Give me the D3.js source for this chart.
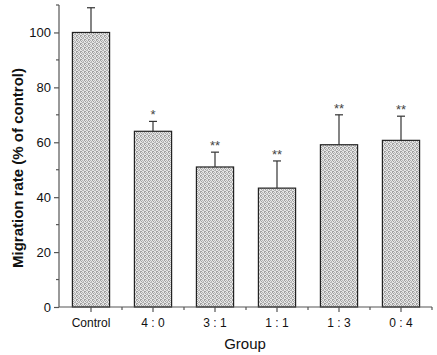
<!DOCTYPE html>
<html><head><meta charset="utf-8">
<script src="https://cdn.jsdelivr.net/npm/d3@7"></script>
<style>body{margin:0;background:#fff}svg{display:block}text{font-family:"Liberation Sans",Arial,sans-serif}</style>
</head><body><svg id="c" width="437" height="355"></svg>
<script>
const categories = ["Control", "4 : 0", "3 : 1", "1 : 1", "1 : 3", "0 : 4"];
const values = [100, 64, 51, 43.3, 59.1, 60.7];
const errors = [9, 3.6, 5.4, 9.9, 10.9, 8.8];
const marks = ["", "*", "**", "**", "**", "**"];
const yTicks = [0, 20, 40, 60, 80, 100];

const svg = d3.select("#c");
const defs = svg.append("defs");
const pat = defs.append("pattern").attr("id","hatch").attr("patternUnits","userSpaceOnUse")
  .attr("width",4).attr("height",4);
pat.append("rect").attr("width",4).attr("height",4).attr("fill","#e6e6e6");
[[0,0],[2,0],[1,1],[3,2],[0,3],[2,2],[1,3],[3,1]].forEach(([px,py],k)=>{
  pat.append("rect").attr("x",px).attr("y",py).attr("width",1).attr("height",1)
    .attr("fill", k%2 ? "#b4b4b4" : "#a0a0a0");
});

const x = d3.scaleBand().domain(categories).range([60,432]).paddingInner(0.4).paddingOuter(0.2);
const y = d3.scaleLinear().domain([0,110]).range([307,5]);

const g = svg.append("g");
g.selectAll("rect.bar").data(categories).join("rect").attr("class","bar")
  .attr("x", d=>x(d)).attr("width", x.bandwidth())
  .attr("y", (d,i)=>y(values[i])).attr("height",(d,i)=>y(0)-y(values[i]))
  .attr("fill","url(#hatch)").attr("stroke","#222").attr("stroke-width",1.2);
categories.forEach((c,i)=>{
  const cx = x(c)+x.bandwidth()/2;
  g.append("line").attr("x1",cx).attr("x2",cx).attr("y1",y(values[i])).attr("y2",y(values[i]+errors[i])).attr("stroke","#333").attr("stroke-width",1.2);
  g.append("line").attr("x1",cx-4).attr("x2",cx+4).attr("y1",y(values[i]+errors[i])).attr("y2",y(values[i]+errors[i])).attr("stroke","#333").attr("stroke-width",1.2);
  if (marks[i]) g.append("text").attr("x",cx).attr("y",y(values[i]+errors[i])-2).attr("text-anchor","middle")
    .attr("font-size",13).attr("fill","#444").text(marks[i]);
});

const yAxis = svg.append("g").attr("transform","translate(59,0)")
  .call(d3.axisLeft(y).tickValues(yTicks).tickSize(5).tickPadding(3));
yAxis.select(".domain").attr("stroke","#555").attr("stroke-width",1.2).attr("d","M0,"+y(110)+"V"+y(0));
yAxis.selectAll(".tick line").attr("stroke","#555").attr("stroke-width",1.2);
yAxis.selectAll(".tick text").attr("font-size",13).attr("fill","#111").attr("font-family","Liberation Sans, Arial, sans-serif");
const minorY = [10,30,50,70,90,110];
svg.append("g").selectAll("line").data(minorY).join("line")
  .attr("x1",56).attr("x2",59).attr("y1",d=>y(d)).attr("y2",d=>y(d)).attr("stroke","#555").attr("stroke-width",1.2);

const xAxis = svg.append("g").attr("transform","translate(0,307)")
  .call(d3.axisBottom(x).tickSize(5).tickPadding(6).tickSizeOuter(0));
xAxis.select(".domain").attr("stroke","#555").attr("stroke-width",1.2).attr("d","M59,0H432");
xAxis.selectAll(".tick line").attr("stroke","#555").attr("stroke-width",1.2);
xAxis.selectAll(".tick text").attr("font-size",12).attr("fill","#111").attr("font-family","Liberation Sans, Arial, sans-serif");
const bounds = categories.map(c=>x(c)+x.bandwidth()/2 + x.step()/2);
svg.append("g").selectAll("line").data(bounds).join("line")
  .attr("x1",d=>d).attr("x2",d=>d).attr("y1",307).attr("y2",310).attr("stroke","#555").attr("stroke-width",1.2);

svg.append("text").attr("x",245).attr("y",349).attr("text-anchor","middle").attr("font-size",15).attr("fill","#111").text("Group");
svg.append("text").attr("transform","translate(23,168) rotate(-90)").attr("text-anchor","middle")
  .attr("font-size",15).attr("font-weight","bold").attr("fill","#111").text("Migration rate (% of control)");
</script></body></html>
